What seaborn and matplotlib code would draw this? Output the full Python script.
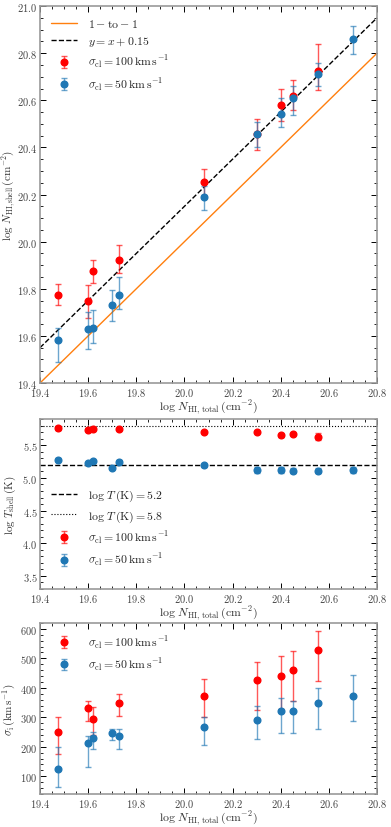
import numpy as np
import matplotlib
matplotlib.use('Agg')
import matplotlib.pyplot as plt
import seaborn as sns
from matplotlib.ticker import MultipleLocator

# Data

x_red = [19.475, 19.60, 19.62, 19.73, 20.08, 20.30, 20.40, 20.45, 20.555]
x_blue = [19.475, 19.60, 19.62, 19.70, 19.73, 20.08, 20.30, 20.40, 20.45, 20.555, 20.70]

# panel 1: shell column density
n_red = [19.775, 19.747, 19.874, 19.922, 20.254, 20.457, 20.58, 20.617, 20.723]
n_red_lo = [0.045, 0.07, 0.05, 0.055, 0.055, 0.07, 0.07, 0.06, 0.08]
n_red_hi = [0.045, 0.07, 0.05, 0.065, 0.055, 0.065, 0.068, 0.07, 0.115]
n_blue = [19.584, 19.630, 19.633, 19.731, 19.775, 20.188, 20.457, 20.543, 20.608, 20.713, 20.860]
n_blue_lo = [0.096, 0.086, 0.065, 0.069, 0.06, 0.054, 0.057, 0.055, 0.069, 0.054, 0.064]
n_blue_hi = [0.048, 0.07, 0.078, 0.065, 0.074, 0.05, 0.049, 0.065, 0.054, 0.044, 0.054]

# panel 2: shell temperature
t_red = [5.76, 5.74, 5.755, 5.75, 5.70, 5.70, 5.65, 5.67, 5.63]
t_red_err = [0.02, 0.02, 0.02, 0.02, 0.02, 0.02, 0.02, 0.02, 0.05]
t_blue = [5.28, 5.23, 5.26, 5.15, 5.25, 5.19, 5.12, 5.12, 5.11, 5.11, 5.12]
t_blue_err = [0.02, 0.02, 0.02, 0.02, 0.02, 0.03, 0.04, 0.04, 0.04, 0.04, 0.05]

# panel 3: sigma_i
s_red = [251, 330, 295, 348, 374, 426, 440, 460, 527]
s_red_lo = [76, 44, 55, 43, 72, 101, 112, 105, 104]
s_red_hi = [51, 27, 41, 30, 55, 61, 67, 64, 65]
s_blue = [125, 212, 230, 246, 237, 266, 292, 321, 321, 347, 374]
s_blue_lo = [63, 82, 36, 24, 46, 59, 65, 75, 75, 85, 88]
s_blue_hi = [76, 24, 19, 16, 23, 36, 47, 45, 36, 54, 70]

lab_red = r'$\sigma_{\rm cl}=100\,{\rm km\,s^{-1}}$'
lab_blue = r'$\sigma_{\rm cl}=50\,{\rm km\,s^{-1}}$'
xlab = r'$\log\,N_{\rm HI,\,total}\,({\rm cm^{-2}})$'

sns.set_style('ticks')
plt.rcParams['font.family'] = ['cmr10', 'DejaVu Serif']
plt.rcParams['mathtext.fontset'] = 'cm'
plt.rcParams['axes.formatter.use_mathtext'] = True
plt.rcParams['font.size'] = 7.5

red = '#ff0000'
blue = '#1f77b4'
orange = '#ff7f0e'


def points(ax, x, y, lo, hi, color, label):
    ax.errorbar(x, y, yerr=[lo, hi], fmt='o', color=color, ms=4.8,
                ecolor=matplotlib.colors.to_rgba(color, 0.65), elinewidth=1,
                capsize=2, label=label, zorder=3)


def style(ax, ymaj, ymin):
    ax.set_xlim(19.4, 20.8)
    ax.xaxis.set_major_locator(MultipleLocator(0.2))
    ax.xaxis.set_minor_locator(MultipleLocator(0.05))
    ax.yaxis.set_major_locator(MultipleLocator(ymaj))
    ax.yaxis.set_minor_locator(MultipleLocator(ymin))
    ax.tick_params(which='both', direction='in', top=True, right=True,
                   labelsize=7.5, colors='k', labelcolor='#444444', pad=2)
    ax.tick_params(which='major', length=4, width=0.7)
    ax.tick_params(which='minor', length=2, width=0.6)
    for s in ax.spines.values():
        s.set_color('#999999')
        s.set_linewidth(1.2)
    ax.set_xlabel(xlab, fontsize=8.5, color='#333333', labelpad=0)
    ax.yaxis.set_label_coords(-0.066, 0.5)


leg_kw = dict(frameon=False, fontsize=8.5, handlelength=2.2,
              labelspacing=0.45, handletextpad=1.0)

fig = plt.figure(figsize=(3.91, 8.28), dpi=100)
ax1 = fig.add_axes([0.1023, 0.5362, 0.862, 0.4553])
ax2 = fig.add_axes([0.1023, 0.2874, 0.862, 0.2053])
ax3 = fig.add_axes([0.1023, 0.0399, 0.862, 0.2065])

# Panel 1
xx = np.array([19.4, 20.8])
sns.lineplot(x=xx, y=xx, ax=ax1, color=orange, lw=1, label=r'$1-{\rm to}-1$')
sns.lineplot(x=xx, y=xx + 0.15, ax=ax1, color='k', lw=1, ls='--',
             label=r'$y=x+0.15$')
points(ax1, x_red, n_red, n_red_lo, n_red_hi, red, lab_red)
points(ax1, x_blue, n_blue, n_blue_lo, n_blue_hi, blue, lab_blue)
style(ax1, 0.2, 0.05)
ax1.set_ylim(19.4, 21.0)
ax1.set_ylabel(r'$\log\,N_{\rm HI,shell}\,({\rm cm^{-2}})$', fontsize=8,
               color='#333333')
ax1.legend(loc='upper left', **leg_kw)

# Panel 2
ax2.axhline(5.2, color='k', lw=1, ls='--', label=r'$\log\,T\,({\rm K})=5.2$')
ax2.axhline(5.8, color='k', lw=0.8, ls=':', label=r'$\log\,T\,({\rm K})=5.8$')
points(ax2, x_red, t_red, t_red_err, t_red_err, red, lab_red)
points(ax2, x_blue, t_blue, t_blue_err, t_blue_err, blue, lab_blue)
style(ax2, 0.5, 0.1)
ax2.set_ylim(3.3, 5.9)
ax2.set_ylabel(r'$\log\,T_{\rm shell}\,({\rm K})$', fontsize=8,
               color='#333333')
ax2.legend(loc='lower left', bbox_to_anchor=(0.0, 0.06), **leg_kw)

# Panel 3
points(ax3, x_red, s_red, s_red_lo, s_red_hi, red, lab_red)
points(ax3, x_blue, s_blue, s_blue_lo, s_blue_hi, blue, lab_blue)
style(ax3, 100, 20)
ax3.set_ylim(40, 620)
ax3.set_ylabel(r'$\sigma_{\rm i}\,({\rm km\,s^{-1}})$', fontsize=8,
               color='#333333')
ax3.legend(loc='upper left', **leg_kw)

fig.savefig('out.png', dpi=100)
